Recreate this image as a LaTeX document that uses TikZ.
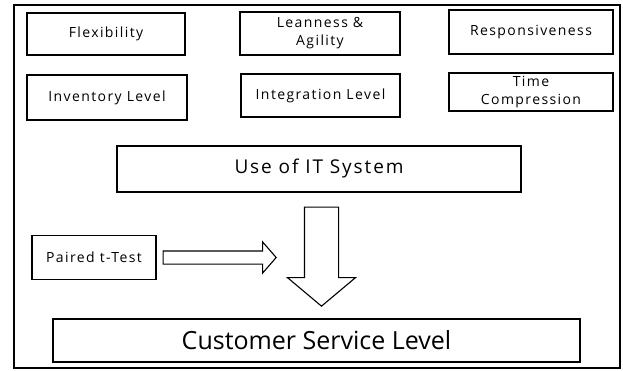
\documentclass[tikz,border=0pt]{standalone}
\usepackage{fontspec}
\setmainfont{Open Sans}
\newfontfamily\spaced[LetterSpace=10]{Open Sans}
\usetikzlibrary{positioning,shapes.arrows}

\tikzset{
  factor/.style={draw, line width=1.2pt, align=center, inner sep=1pt,
    font=\spaced\fontsize{14}{18}\selectfont},
  blockarrow/.style={draw, line width=1.1pt, single arrow, single arrow head indent=0pt}
}

\begin{document}
\begin{tikzpicture}[x=1pt,y=-1pt]
	\useasboundingbox (0,0) rectangle (623,370);
	\draw[line width=1.1pt] (14,5) rectangle (620,368);

	% factors, two rows of three
	\node[factor, minimum width=158pt, minimum height=42pt] (flex) at (106,34) {Flexibility};
	\node[factor, minimum width=160pt, minimum height=43pt] (lean) at (320,33.5) {Leanness \&\\Agility};
	\node[factor, minimum width=164pt, minimum height=44pt] (resp) at (531,32) {Responsiveness};
	\node[factor, minimum width=160pt, minimum height=45pt] (inv) at (107,97.5) {Inventory Level};
	\node[factor, minimum width=159pt, minimum height=43pt] (integ) at (320.5,95.5) {Integration Level};
	\node[factor, minimum width=164pt, minimum height=38pt] (timec) at (531,92) {Time\\Compression};

	\node[factor, minimum width=404pt, minimum height=46pt, font=\spaced\fontsize{19}{22}\selectfont] (itsys) at (319,169) {Use of IT System};
	\node[factor, minimum width=124pt, minimum height=44pt] (paired) at (94,257.5) {Paired t-Test};
	\node[factor, minimum width=527pt, minimum height=43pt, font=\fontsize{25}{28}\selectfont] (csl) at (316.5,340.5) {Customer Service Level};

	% block arrows
	\node[blockarrow, shape border rotate=270, inner sep=16.5pt, single arrow head extend=17pt,
	  single arrow tip angle=100, minimum height=99pt, below=14pt of itsys, xshift=2.5pt] (down) {};
	\node[blockarrow, inner sep=6pt, single arrow head extend=9pt, single arrow tip angle=98,
	  minimum height=113pt, right=6pt of paired] (push) {};
\end{tikzpicture}
\end{document}
